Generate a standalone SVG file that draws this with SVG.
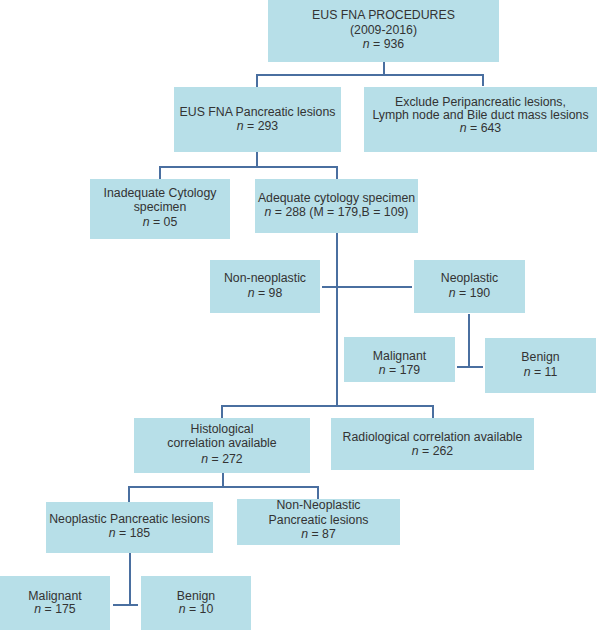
<svg xmlns="http://www.w3.org/2000/svg" width="603" height="630" viewBox="0 0 603 630">
<style>
.box{fill:#b7dfe8;}
.t{font-family:"Liberation Sans",Arial,sans-serif;font-size:12.3px;fill:#333;text-anchor:middle;}
.i{font-style:italic;}
.c{fill:none;stroke:#4a6fa0;stroke-width:2;}
</style>
<rect width="603" height="630" fill="#fff"/>
<g id="connectors">
<path class="c" d="M384 62 V75 M257 87 V75 H483 V86"/>
<path class="c" d="M257 152 V167 M160 179 V167 H337 V179"/>
<path class="c" d="M337 233 V406 M322 287 H412"/>
<path class="c" d="M469 314 V367 M457 367 H483"/>
<path class="c" d="M222 418 V406 H433 V418"/>
<path class="c" d="M223 473 V487 M129 502 V487 H318 V499"/>
<path class="c" d="M130 553 V605 M113 605 H138"/>
</g>
<g id="n1"><rect class="box" x="268" y="0" width="231" height="62"/>
<text class="t" x="383.5" y="19">EUS FNA PROCEDURES</text>
<text class="t" x="383.5" y="34">(2009-2016)</text>
<text class="t" x="383.5" y="48"><tspan class="i">n</tspan> = 936</text></g>
<g id="n2"><rect class="box" x="174" y="87" width="167" height="65"/>
<text class="t" x="257.5" y="116">EUS FNA Pancreatic lesions</text>
<text class="t" x="257.5" y="130"><tspan class="i">n</tspan> = 293</text></g>
<g id="n3"><rect class="box" x="364" y="87" width="233" height="65"/>
<text class="t" x="480.5" y="106">Exclude Peripancreatic lesions,</text>
<text class="t" x="480.5" y="119">Lymph node and Bile duct mass lesions</text>
<text class="t" x="480.5" y="132"><tspan class="i">n</tspan> = 643</text></g>
<g id="n4"><rect class="box" x="90" y="179" width="140" height="60"/>
<text class="t" x="160" y="197">Inadequate Cytology</text>
<text class="t" x="160" y="211">specimen</text>
<text class="t" x="160" y="226"><tspan class="i">n</tspan> = 05</text></g>
<g id="n5"><rect class="box" x="255" y="179" width="163" height="54"/>
<text class="t" x="336.5" y="202">Adequate cytology specimen</text>
<text class="t" x="336.5" y="216"><tspan class="i">n</tspan> = 288 (M = 179,B = 109)</text></g>
<g id="n6"><rect class="box" x="210" y="260" width="110" height="53"/>
<text class="t" x="265" y="282">Non-neoplastic</text>
<text class="t" x="265" y="297"><tspan class="i">n</tspan> = 98</text></g>
<g id="n7"><rect class="box" x="414" y="260" width="111" height="53"/>
<text class="t" x="469.5" y="282">Neoplastic</text>
<text class="t" x="469.5" y="297"><tspan class="i">n</tspan> = 190</text></g>
<g id="n8"><rect class="box" x="344" y="337" width="111" height="45"/>
<text class="t" x="399.5" y="360">Malignant</text>
<text class="t" x="399.5" y="374"><tspan class="i">n</tspan> = 179</text></g>
<g id="n9"><rect class="box" x="485" y="338" width="111" height="55"/>
<text class="t" x="540.5" y="361">Benign</text>
<text class="t" x="540.5" y="376"><tspan class="i">n</tspan> = 11</text></g>
<g id="n10"><rect class="box" x="134" y="418" width="176" height="55"/>
<text class="t" x="222" y="433">Histological</text>
<text class="t" x="222" y="447">correlation available</text>
<text class="t" x="222" y="463"><tspan class="i">n</tspan> = 272</text></g>
<g id="n11"><rect class="box" x="331" y="418" width="203" height="52"/>
<text class="t" x="432.5" y="441">Radiological correlation available</text>
<text class="t" x="432.5" y="455"><tspan class="i">n</tspan> = 262</text></g>
<g id="n12"><rect class="box" x="46" y="502" width="167" height="51"/>
<text class="t" x="129.5" y="523">Neoplastic Pancreatic lesions</text>
<text class="t" x="129.5" y="537"><tspan class="i">n</tspan> = 185</text></g>
<g id="n13"><rect class="box" x="237" y="499" width="163" height="46"/>
<text class="t" x="318.5" y="509">Non-Neoplastic</text>
<text class="t" x="318.5" y="524">Pancreatic lesions</text>
<text class="t" x="318.5" y="538"><tspan class="i">n</tspan> = 87</text></g>
<g id="n14"><rect class="box" x="0" y="576" width="110" height="54"/>
<text class="t" x="55" y="600">Malignant</text>
<text class="t" x="55" y="613"><tspan class="i">n</tspan> = 175</text></g>
<g id="n15"><rect class="box" x="141" y="576" width="110" height="54"/>
<text class="t" x="196" y="600">Benign</text>
<text class="t" x="196" y="613"><tspan class="i">n</tspan> = 10</text></g>
</svg>
